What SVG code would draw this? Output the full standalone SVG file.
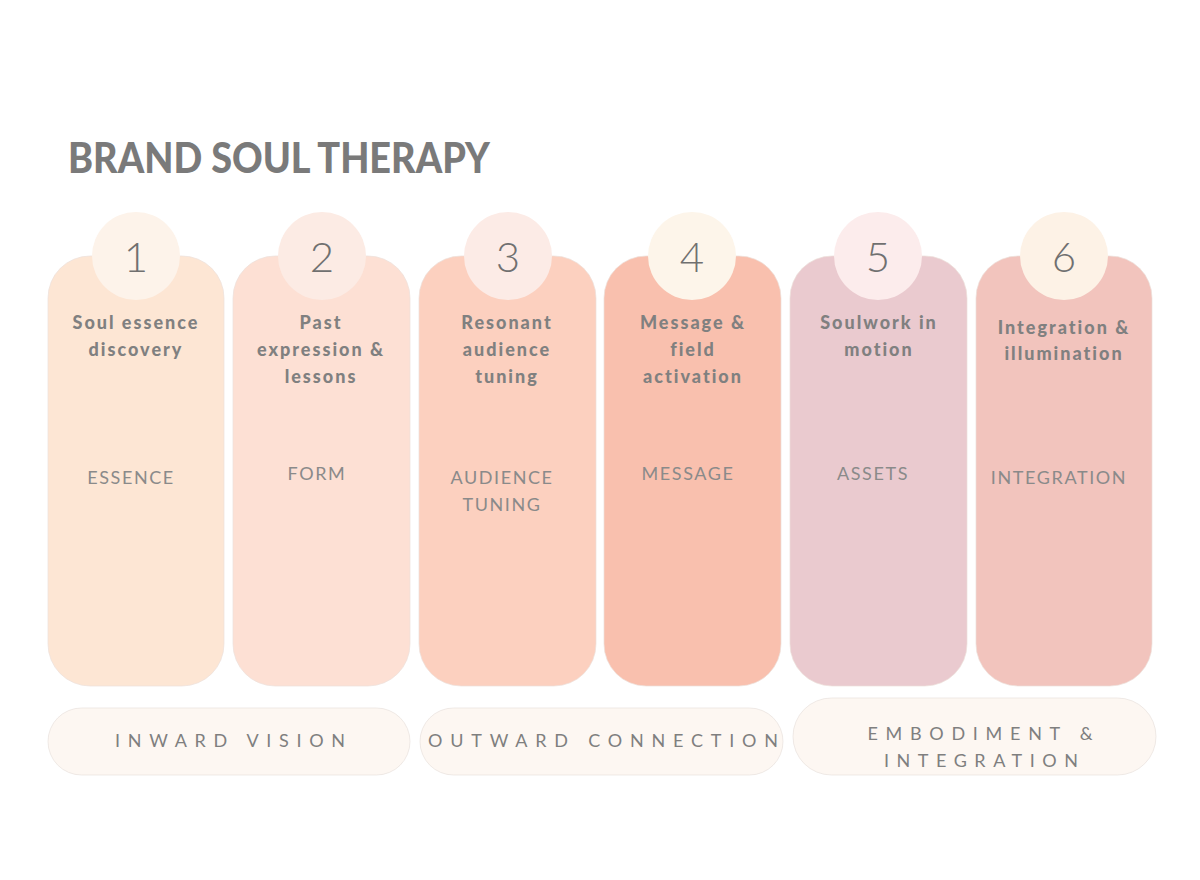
<svg xmlns="http://www.w3.org/2000/svg" width="1200" height="880" viewBox="0 0 1200 880">
<style>
.card{stroke:#ece0da;stroke-width:0.7}
.circ{stroke:none}
.num{font-family:Lato,"Liberation Sans",sans-serif;font-weight:300;font-size:42px;fill:#707070;text-anchor:middle}
.ttl{font-family:Lato,"Liberation Sans",sans-serif;font-weight:900;font-size:18px;fill:#808080;text-anchor:middle;letter-spacing:2px}
.lbl{font-family:Lato,"Liberation Sans",sans-serif;font-weight:400;font-size:18px;fill:#8a8a8a;text-anchor:middle;letter-spacing:1.6px}
.pill{fill:#fdf7f2;stroke:#e8e1dc;stroke-width:0.7}
.ptx{font-family:Lato,"Liberation Sans",sans-serif;font-weight:400;font-size:18px;fill:#7f7f7f;text-anchor:middle}
</style>
<rect width="1200" height="880" fill="#ffffff"/>
<text x="68" y="173" font-family="Lato,'Liberation Sans',sans-serif" font-weight="900" font-size="42" fill="#7a7a7a" textLength="422" lengthAdjust="spacingAndGlyphs">BRAND SOUL THERAPY</text>

<g id="step1">
<rect class="card" x="48" y="256" width="176" height="430" rx="42" fill="#fde6d4"/>
<circle class="circ" cx="136" cy="256" r="44" fill="#fdf3ea"/>
<text class="num" x="136" y="272">1</text>
<text class="ttl" x="136" y="329">Soul essence</text>
<text class="ttl" x="136" y="356">discovery</text>
<text class="lbl" x="131" y="484">ESSENCE</text>
</g>
<g id="step2">
<rect class="card" x="233" y="256" width="177" height="430" rx="42" fill="#fde0d4"/>
<circle class="circ" cx="322" cy="256" r="44" fill="#fcebe4"/>
<text class="num" x="322" y="272">2</text>
<text class="ttl" x="321" y="329">Past</text>
<text class="ttl" x="321" y="356">expression &amp;</text>
<text class="ttl" x="321" y="383">lessons</text>
<text class="lbl" x="317" y="480">FORM</text>
</g>
<g id="step3">
<rect class="card" x="419" y="256" width="177" height="430" rx="42" fill="#fcd0bf"/>
<circle class="circ" cx="508" cy="256" r="44" fill="#fcebe6"/>
<text class="num" x="508" y="272">3</text>
<text class="ttl" x="507" y="329">Resonant</text>
<text class="ttl" x="507" y="356">audience</text>
<text class="ttl" x="507" y="383">tuning</text>
<text class="lbl" x="502" y="484">AUDIENCE</text>
<text class="lbl" x="502" y="511">TUNING</text>
</g>
<g id="step4">
<rect class="card" x="604" y="256" width="177" height="430" rx="42" fill="#f9c0ae"/>
<circle class="circ" cx="692" cy="256" r="44" fill="#fdf5ea"/>
<text class="num" x="692" y="272">4</text>
<text class="ttl" x="693" y="329">Message &amp;</text>
<text class="ttl" x="693" y="356">field</text>
<text class="ttl" x="693" y="383">activation</text>
<text class="lbl" x="688" y="480">MESSAGE</text>
</g>
<g id="step5">
<rect class="card" x="790" y="256" width="177" height="430" rx="42" fill="#eacacf"/>
<circle class="circ" cx="878" cy="256" r="44" fill="#fcecec"/>
<text class="num" x="878" y="272">5</text>
<text class="ttl" x="879" y="329">Soulwork in</text>
<text class="ttl" x="879" y="356">motion</text>
<text class="lbl" x="873" y="480">ASSETS</text>
</g>
<g id="step6">
<rect class="card" x="976" y="256" width="176" height="430" rx="42" fill="#f2c4bd"/>
<circle class="circ" cx="1064" cy="256" r="44" fill="#fdf2e6"/>
<text class="num" x="1064" y="272">6</text>
<text class="ttl" x="1064" y="334">Integration &amp;</text>
<text class="ttl" x="1064" y="360">illumination</text>
<text class="lbl" x="1059" y="484">INTEGRATION</text>
</g>

<g id="phase1">
<rect class="pill" x="48" y="708" width="362" height="67" rx="33.5"/>
<text class="ptx" x="230" y="747" textLength="230" lengthAdjust="spacing">INWARD VISION</text>
</g>
<g id="phase2">
<rect class="pill" x="420" y="708" width="363" height="67" rx="33.5"/>
<text class="ptx" x="603" y="747" textLength="350" lengthAdjust="spacing">OUTWARD CONNECTION</text>
</g>
<g id="phase3">
<rect class="pill" x="793" y="698" width="363" height="77" rx="38.5"/>
<text class="ptx" x="980" y="740" textLength="225" lengthAdjust="spacing">EMBODIMENT &amp;</text>
<text class="ptx" x="981" y="767" textLength="194" lengthAdjust="spacing">INTEGRATION</text>
</g>
<g id="connectors"/>
</svg>
